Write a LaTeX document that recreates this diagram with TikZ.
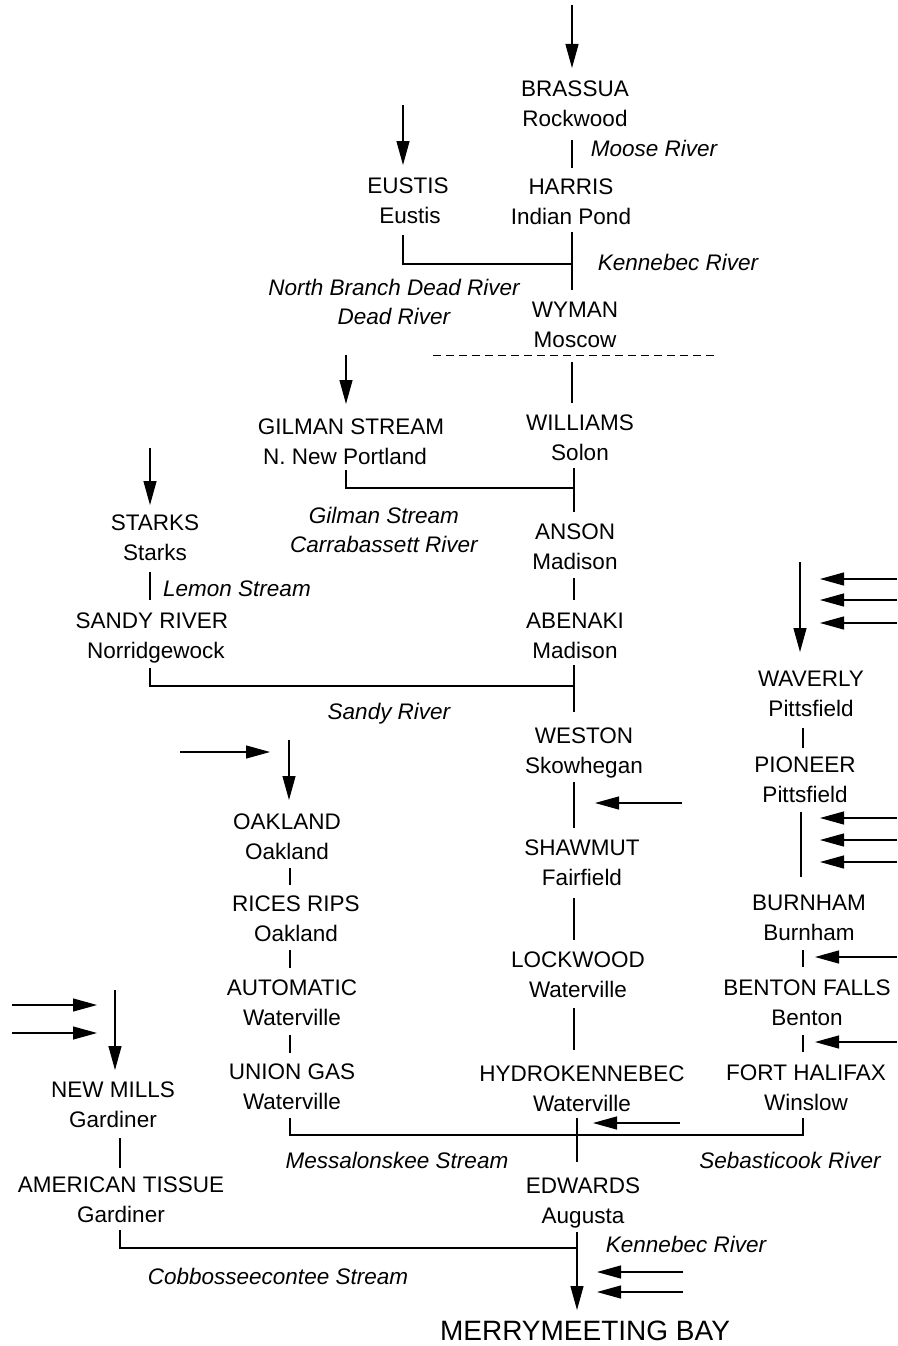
\documentclass[tikz,border=0pt]{standalone}
\usepackage{fontspec}
\setmainfont{Liberation Sans}
\usetikzlibrary{arrows.meta}
\begin{document}
\begin{tikzpicture}[x=1pt,y=-1pt,
  lbl/.style={anchor=base,inner sep=0pt,font=\fontsize{22.5}{27}\selectfont},
  riv/.style={anchor=base,inner sep=0pt,font=\fontsize{22.5}{27}\selectfont\itshape},
  ln/.style={line width=1.2pt},
  arr/.style={line width=1.2pt,-{Triangle[length=24pt,width=13pt]}},
  dsh/.style={line width=1pt,dash pattern=on 8pt off 5pt},
]
\useasboundingbox (0,0) rectangle (897,1346);
% ---------- station labels ----------
\node[lbl] (brassua) at (575,96) {BRASSUA};
\node[lbl] (brassuac) at (575,126) {Rockwood};
\node[lbl] (harris) at (571,194) {HARRIS};
\node[lbl] (harrisc) at (571,224) {Indian Pond};
\node[lbl] (eustis) at (408,193) {EUSTIS};
\node[lbl] (eustisc) at (410,223) {Eustis};
\node[lbl] (wyman) at (575,317) {WYMAN};
\node[lbl] (wymanc) at (575,347) {Moscow};
\node[lbl] (gilman) at (351,434) {GILMAN STREAM};
\node[lbl] (gilmanc) at (345,464) {N. New Portland};
\node[lbl] (williams) at (580,430) {WILLIAMS};
\node[lbl] (williamsc) at (580,460) {Solon};
\node[lbl] (starks) at (155,530) {STARKS};
\node[lbl] (starksc) at (155,560) {Starks};
\node[lbl] (anson) at (575,539) {ANSON};
\node[lbl] (ansonc) at (575,569) {Madison};
\node[lbl] (sandy) at (152,628) {SANDY RIVER};
\node[lbl] (sandyc) at (156,658) {Norridgewock};
\node[lbl] (abenaki) at (575,628) {ABENAKI};
\node[lbl] (abenakic) at (575,658) {Madison};
\node[lbl] (waverly) at (811,686) {WAVERLY};
\node[lbl] (waverlyc) at (811,716) {Pittsfield};
\node[lbl] (weston) at (584,743) {WESTON};
\node[lbl] (westonc) at (584,773) {Skowhegan};
\node[lbl] (pioneer) at (805,772) {PIONEER};
\node[lbl] (pioneerc) at (805,802) {Pittsfield};
\node[lbl] (oakland) at (287,829) {OAKLAND};
\node[lbl] (oaklandc) at (287,859) {Oakland};
\node[lbl] (shawmut) at (582,855) {SHAWMUT};
\node[lbl] (shawmutc) at (582,885) {Fairfield};
\node[lbl] (burnham) at (809,910) {BURNHAM};
\node[lbl] (burnhamc) at (809,940) {Burnham};
\node[lbl] (rices) at (296,911) {RICES RIPS};
\node[lbl] (ricesc) at (296,941) {Oakland};
\node[lbl] (lockwood) at (578,967) {LOCKWOOD};
\node[lbl] (lockwoodc) at (578,997) {Waterville};
\node[lbl] (automatic) at (292,995) {AUTOMATIC};
\node[lbl] (automaticc) at (292,1025) {Waterville};
\node[lbl] (benton) at (807,995) {BENTON FALLS};
\node[lbl] (bentonc) at (807,1025) {Benton};
\node[lbl] (union) at (292,1079) {UNION GAS};
\node[lbl] (unionc) at (292,1109) {Waterville};
\node[lbl] (hydro) at (582,1081) {HYDROKENNEBEC};
\node[lbl] (hydroc) at (582,1111) {Waterville};
\node[lbl] (halifax) at (806,1080) {FORT HALIFAX};
\node[lbl] (halifaxc) at (806,1110) {Winslow};
\node[lbl] (newmills) at (113,1097) {NEW MILLS};
\node[lbl] (newmillsc) at (113,1127) {Gardiner};
\node[lbl] (tissue) at (121,1192) {AMERICAN TISSUE};
\node[lbl] (tissuec) at (121,1222) {Gardiner};
\node[lbl] (edwards) at (583,1193) {EDWARDS};
\node[lbl] (edwardsc) at (583,1223) {Augusta};
\node[anchor=base,inner sep=0pt,font=\fontsize{28}{32}\selectfont] (bay) at (585,1340) {MERRYMEETING BAY};
% ---------- river labels ----------
\node[riv] (r1) at (654,156) {Moose River};
\node[riv] (r2) at (678,270) {Kennebec River};
\node[riv] (r3) at (394,295) {North Branch Dead River};
\node[riv] (r4) at (394,324) {Dead River};
\node[riv] (r5) at (384,523) {Gilman Stream};
\node[riv] (r6) at (384,552) {Carrabassett River};
\node[riv] (r7) at (237,596) {Lemon Stream};
\node[riv] (r8) at (389,719) {Sandy River};
\node[riv] (r9) at (397,1168) {Messalonskee Stream};
\node[riv] (r10) at (790,1168) {Sebasticook River};
\node[riv] (r11) at (686,1252) {Kennebec River};
\node[riv] (r12) at (278,1284) {Cobbosseecontee Stream};
% ---------- coordinates ----------
% main stem
\coordinate (k0) at (572,5);    \coordinate (k1) at (572,68);
\coordinate (k2) at (572,140);  \coordinate (k3) at (572,168);
\coordinate (k4) at (572,232);  \coordinate (k5) at (572,290);
\coordinate (jE) at (572,264);
\coordinate (k6) at (572,362);  \coordinate (k7) at (572,403);
\coordinate (k8) at (574,468);  \coordinate (k9) at (574,512);
\coordinate (jG) at (574,488);
\coordinate (k10) at (574,578); \coordinate (k11) at (574,600);
\coordinate (k12) at (574,665); \coordinate (k13) at (574,712);
\coordinate (jS) at (574,686);
\coordinate (k14) at (574,782); \coordinate (k15) at (574,828);
\coordinate (k16) at (574,898); \coordinate (k17) at (574,940);
\coordinate (k18) at (574,1008);\coordinate (k19) at (574,1050);
\coordinate (k20) at (577,1118);\coordinate (k21) at (577,1162);
\coordinate (k22) at (577,1232);\coordinate (k23) at (577,1310);
\coordinate (jC) at (577,1248);
\coordinate (dA) at (433,355);  \coordinate (dB) at (718,355);
% eustis
\coordinate (e0) at (403,105);  \coordinate (e1) at (403,165);
\coordinate (e2) at (403,235);  \coordinate (e3) at (403,264);
% gilman
\coordinate (g0) at (346,355);  \coordinate (g1) at (346,404);
\coordinate (g2) at (346,470);  \coordinate (g3) at (346,488);
% starks / sandy
\coordinate (s0) at (150,448);  \coordinate (s1) at (150,505);
\coordinate (s2) at (150,572);  \coordinate (s3) at (150,600);
\coordinate (s4) at (150,668);  \coordinate (s5) at (150,686);
% side inflows main stem
\coordinate (h0) at (682,803);  \coordinate (h1) at (595,803);
\coordinate (h2) at (680,1123); \coordinate (h3) at (593,1123);
\coordinate (h4) at (683,1272); \coordinate (h5) at (597,1272);
\coordinate (h6) at (683,1292); \coordinate (h7) at (597,1292);
% sebasticook
\coordinate (w0) at (800,562);  \coordinate (w1) at (800,652);
\coordinate (wa) at (897,579);  \coordinate (wb) at (820,579);
\coordinate (wc) at (897,600);  \coordinate (wd) at (820,600);
\coordinate (we) at (897,623);  \coordinate (wf) at (820,623);
\coordinate (w2) at (803,728);  \coordinate (w3) at (803,748);
\coordinate (w4) at (801,812);  \coordinate (w5) at (801,877);
\coordinate (pa) at (897,818);  \coordinate (pb) at (820,818);
\coordinate (pc) at (897,840);  \coordinate (pd) at (820,840);
\coordinate (pe) at (897,862);  \coordinate (pf) at (820,862);
\coordinate (w6) at (803,950);  \coordinate (w7) at (803,967);
\coordinate (ba) at (897,957);  \coordinate (bb) at (815,957);
\coordinate (w8) at (803,1035); \coordinate (w9) at (803,1052);
\coordinate (bc) at (897,1042); \coordinate (bd) at (815,1042);
\coordinate (w10) at (803,1118);\coordinate (w11) at (803,1135);
% messalonskee
\coordinate (o0) at (180,752);  \coordinate (o1) at (270,752);
\coordinate (o2) at (289,740);  \coordinate (o3) at (289,800);
\coordinate (o4) at (290,868);  \coordinate (o5) at (290,885);
\coordinate (o6) at (290,950);  \coordinate (o7) at (290,968);
\coordinate (o8) at (290,1035); \coordinate (o9) at (290,1053);
\coordinate (o10) at (290,1118);\coordinate (o11) at (290,1135);
% cobbosseecontee
\coordinate (n0) at (12,1005);  \coordinate (n1) at (97,1005);
\coordinate (n2) at (12,1033);  \coordinate (n3) at (97,1033);
\coordinate (n4) at (115,990);  \coordinate (n5) at (115,1070);
\coordinate (n6) at (120,1138); \coordinate (n7) at (120,1168);
\coordinate (n8) at (120,1230); \coordinate (n9) at (120,1248);
% ---------- connectors ----------
\draw[arr] (k0) -- (k1);
\draw[ln] (k2) -- (k3);
\draw[ln] (k4) -- (k5);
\draw[arr] (e0) -- (e1);
\draw[ln] (e2) -- (e3) -- (jE);
\draw[dsh] (dA) -- (dB);
\draw[ln] (k6) -- (k7);
\draw[arr] (g0) -- (g1);
\draw[ln] (g2) -- (g3) -- (jG);
\draw[ln] (k8) -- (k9);
\draw[ln] (k10) -- (k11);
\draw[arr] (s0) -- (s1);
\draw[ln] (s2) -- (s3);
\draw[ln] (s4) -- (s5) -- (jS);
\draw[ln] (k12) -- (k13);
\draw[ln] (k14) -- (k15);
\draw[arr] (h0) -- (h1);
\draw[ln] (k16) -- (k17);
\draw[ln] (k18) -- (k19);
\draw[arr] (h2) -- (h3);
\draw[ln] (k20) -- (k21);
\draw[ln] (w10) -- (w11) -- (o11) -- (o10);
\draw[arr] (k22) -- (k23);
\draw[ln] (n8) -- (n9) -- (jC);
\draw[arr] (h4) -- (h5);
\draw[arr] (h6) -- (h7);
\draw[arr] (w0) -- (w1);
\draw[arr] (wa) -- (wb);
\draw[arr] (wc) -- (wd);
\draw[arr] (we) -- (wf);
\draw[ln] (w2) -- (w3);
\draw[ln] (w4) -- (w5);
\draw[arr] (pa) -- (pb);
\draw[arr] (pc) -- (pd);
\draw[arr] (pe) -- (pf);
\draw[ln] (w6) -- (w7);
\draw[arr] (ba) -- (bb);
\draw[ln] (w8) -- (w9);
\draw[arr] (bc) -- (bd);
\draw[arr] (o0) -- (o1);
\draw[arr] (o2) -- (o3);
\draw[ln] (o4) -- (o5);
\draw[ln] (o6) -- (o7);
\draw[ln] (o8) -- (o9);
\draw[arr] (n0) -- (n1);
\draw[arr] (n2) -- (n3);
\draw[arr] (n4) -- (n5);
\draw[ln] (n6) -- (n7);
\end{tikzpicture}
\end{document}
